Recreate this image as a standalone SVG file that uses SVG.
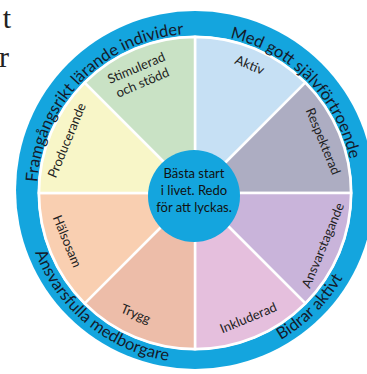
<svg xmlns="http://www.w3.org/2000/svg" width="367" height="374" viewBox="0 0 367 374">
<style>
.seg{stroke:#fff;stroke-width:2.5}
.lbl{font-family:Lato,"Open Sans",sans-serif;font-size:13px;fill:#222;text-anchor:middle}
.ring{font-family:Lato,"Open Sans",sans-serif;font-size:16.5px;fill:#141a2a;text-anchor:middle}
.ctr{font-family:Lato,"Open Sans",sans-serif;font-size:13px;fill:#111;text-anchor:middle}
.serif{font-family:"Liberation Serif",serif;font-size:30px;fill:#222;text-anchor:end}
</style>
<defs>
<path id="topArc" d="M58.2,271 A158,158 0 1 1 331.8,271"/>
<path id="botArc" d="M46.9,106.5 A171,171 0 1 0 343.1,106.5"/>
</defs>
<rect width="367" height="374" fill="#fff"/>
<text class="serif" x="11" y="28">t</text>
<text class="serif" x="9" y="67">r</text>
<g id="ring">
<circle cx="195" cy="190" r="179" fill="#14a5de"/>
<circle cx="195" cy="193" r="157.5" fill="#fff"/>
</g>
<g id="aktiv"><path class="seg" fill="#c6e0f4" d="M195,193 L195,37 A156,156 0 0 1 305.3,82.7 Z"/><text class="lbl" transform="translate(248,69) rotate(22.5)">Aktiv</text></g>
<g id="respekterad"><path class="seg" fill="#adadc2" d="M195,193 L305.3,82.7 A156,156 0 0 1 351,193 Z"/><text class="lbl" transform="translate(319,143) rotate(67.5)">Respekterad</text></g>
<g id="ansvarstagande"><path class="seg" fill="#c9b4da" d="M195,193 L351,193 A156,156 0 0 1 305.3,303.3 Z"/><text class="lbl" transform="translate(327,247) rotate(-67.5)">Ansvarstagande</text></g>
<g id="inkluderad"><path class="seg" fill="#e5bfdd" d="M195,193 L305.3,303.3 A156,156 0 0 1 195,349 Z"/><text class="lbl" transform="translate(250,322) rotate(-22.5)">Inkluderad</text></g>
<g id="trygg"><path class="seg" fill="#edbda9" d="M195,193 L195,349 A156,156 0 0 1 84.7,303.3 Z"/><text class="lbl" transform="translate(134,318) rotate(22.5)">Trygg</text></g>
<g id="halsosam"><path class="seg" fill="#f9cfb1" d="M195,193 L84.7,303.3 A156,156 0 0 1 39,193 Z"/><text class="lbl" transform="translate(63,243) rotate(67.5)">Hälsosam</text></g>
<g id="producerande"><path class="seg" fill="#f8f6c8" d="M195,193 L39,193 A156,156 0 0 1 84.7,82.7 Z"/><text class="lbl" transform="translate(71,142) rotate(-67.5)">Producerande</text></g>
<g id="stimulerad"><path class="seg" fill="#c9e2c5" d="M195,193 L84.7,82.7 A156,156 0 0 1 195,37 Z"/><text class="lbl" transform="translate(138,72) rotate(-23)"><tspan x="0" y="0">Stimulerad</tspan><tspan x="0" y="16">och stödd</tspan></text></g>
<g id="center">
<circle cx="194" cy="196" r="46" fill="#14a5de"/>
<text class="ctr"><tspan x="194" y="178">Bästa start</tspan><tspan x="194" y="195">i livet. Redo</tspan><tspan x="194" y="212">för att lyckas.</tspan></text>
</g>
<g id="ring-labels">
<text class="ring"><textPath href="#topArc" startOffset="206">Framgångsrikt lärande individer</textPath></text>
<text class="ring"><textPath href="#topArc" startOffset="456">Med gott självförtroende</textPath></text>
<text class="ring"><textPath href="#botArc" startOffset="241">Ansvarsfulla medborgare</textPath></text>
<text class="ring"><textPath href="#botArc" startOffset="492">Bidrar aktivt</textPath></text>
</g>
</svg>
